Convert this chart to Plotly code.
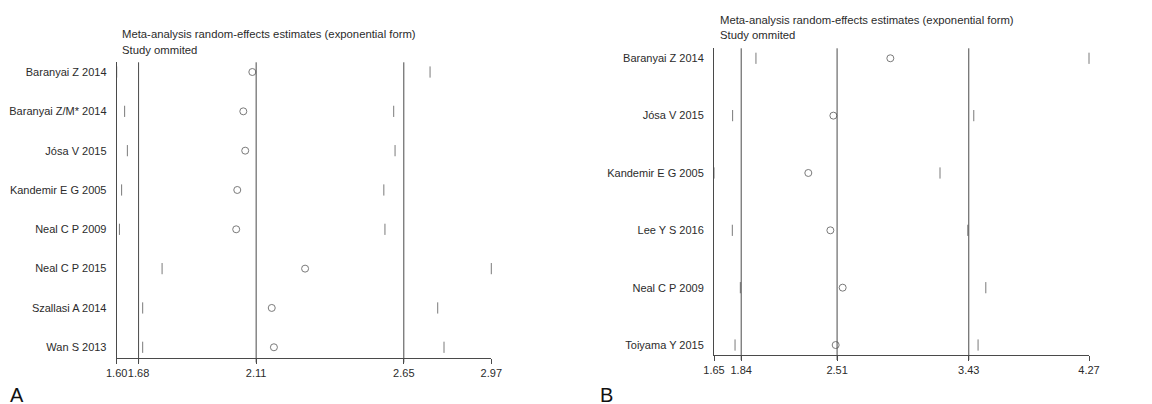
import plotly.graph_objects as go

# ---------------- Data ----------------
studies_a = ["Baranyai Z 2014", "Baranyai Z/M* 2014", "Jósa V 2015", "Kandemir E G 2005",
             "Neal C P 2009", "Neal C P 2015", "Szallasi A 2014", "Wan S 2013"]
est_a = [2.096, 2.063, 2.070, 2.041, 2.037, 2.289, 2.167, 2.175]
low_a = [1.600, 1.629, 1.639, 1.618, 1.610, 1.766, 1.695, 1.695]
up_a = [2.746, 2.613, 2.618, 2.577, 2.581, 2.970, 2.774, 2.797]
overall_a = [1.68, 2.11, 2.65]
ticks_a = [1.60, 1.68, 2.11, 2.65, 2.97]
ticktext_a = ["1.60", "1.68", "2.11", "2.65", "2.97"]

studies_b = ["Baranyai Z 2014", "Jósa V 2015", "Kandemir E G 2005", "Lee Y S 2016",
             "Neal C P 2009", "Toiyama Y 2015"]
est_b = [2.882, 2.484, 2.309, 2.463, 2.549, 2.500]
low_b = [1.943, 1.780, 1.650, 1.778, 1.834, 1.797]
up_b = [4.270, 3.465, 3.229, 3.423, 3.549, 3.495]
overall_b = [1.84, 2.51, 3.43]
ticks_b = [1.65, 1.84, 2.51, 3.43, 4.27]
ticktext_b = ["1.65", "1.84", "2.51", "3.43", "4.27"]

title1 = "Meta-analysis random-effects estimates (exponential form)"
title2 = "Study ommited"

# ---------------- Layout geometry ----------------
W, H = 1152, 404
OFF = 8  # page body margin in the browser
FONT = "Liberation Sans, Arial, Helvetica, sans-serif"
LINE = "#4a4a4a"
MARK = "#7a7a7a"
TXT = "#2b2b2b"


def px(x):
    return (x - OFF) / W


def py(y):
    return 1 - (y - OFF) / H


fig = go.Figure()

panels = [
    dict(studies=studies_a, est=est_a, low=low_a, up=up_a, overall=overall_a,
         ticks=ticks_a, ticktext=ticktext_a, xdom=(116.7, 491.3), ytop=62.3, ybot=357.5,
         xr=(1.60, 2.97), pad_top=0.247, pad_bot=0.26, xa="x", ya="y",
         t1=(120, 34.5), t2=(120, 50), letter="A", lpos=(17, 395)),
    dict(studies=studies_b, est=est_b, low=low_b, up=up_b, overall=overall_b,
         ticks=ticks_b, ticktext=ticktext_b, xdom=(714, 1089), ytop=48.3, ybot=355,
         xr=(1.65, 4.27), pad_top=0.174, pad_bot=0.174, xa="x2", ya="y2",
         t1=(717.5, 20), t2=(717.5, 35.5), letter="B", lpos=(606, 395)),
]

for i, p in enumerate(panels):
    n = len(p["studies"])
    idx = list(range(n))
    for bounds in (p["low"], p["up"]):
        fig.add_trace(go.Scatter(x=bounds, y=idx, mode="markers", xaxis=p["xa"], yaxis=p["ya"],
                                 marker=dict(symbol="line-ns", size=8, line=dict(width=1, color=MARK),
                                             color=MARK),
                                 showlegend=False, hoverinfo="skip", cliponaxis=False))
    fig.add_trace(go.Scatter(x=p["est"], y=idx, mode="markers", xaxis=p["xa"], yaxis=p["ya"],
                             marker=dict(symbol="circle-open", size=7, line=dict(width=1, color=MARK),
                                         color=MARK),
                             showlegend=False, hoverinfo="skip", cliponaxis=False))
    for v in p["overall"]:
        fig.add_shape(type="line", xref=p["xa"], yref="paper", x0=v, x1=v,
                      y0=py(p["ybot"] + 5), y1=py(p["ytop"]),
                      line=dict(color=LINE, width=1))
    suffix = "" if i == 0 else "2"
    fig.update_layout(**{
        "xaxis" + suffix: dict(domain=[px(p["xdom"][0]), px(p["xdom"][1])], range=list(p["xr"]),
                               anchor="y" + suffix, tickmode="array", tickvals=p["ticks"],
                               ticktext=p["ticktext"], ticks="outside", ticklen=5, tickwidth=1,
                               tickcolor=LINE, showline=True, linecolor=LINE, linewidth=1,
                               showgrid=False, zeroline=False, fixedrange=True, tickangle=0,
                               automargin=False,
                               tickfont=dict(family=FONT, size=11, color=TXT)),
        "yaxis" + suffix: dict(domain=[py(p["ybot"]), py(p["ytop"])],
                               range=[n - 1 + p["pad_bot"], -p["pad_top"]],
                               anchor="x" + suffix, tickmode="array", tickvals=idx,
                               ticktext=p["studies"], ticks="", ticklabelstandoff=7,
                               showline=True, linecolor=LINE, linewidth=1, automargin=False,
                               showgrid=False, zeroline=False, fixedrange=True,
                               tickfont=dict(family=FONT, size=11, color=TXT)),
    })
    for t, pos in ((title1, p["t1"]), (title2, p["t2"])):
        fig.add_annotation(text=t, x=px(pos[0]), y=py(pos[1]), xref="paper", yref="paper",
                           xanchor="left", yanchor="middle", showarrow=False,
                           font=dict(family=FONT, size=11.3, color=TXT))
    fig.add_annotation(text=p["letter"], x=px(p["lpos"][0]), y=py(p["lpos"][1]), xref="paper",
                       yref="paper", xanchor="center", yanchor="middle", showarrow=False,
                       font=dict(family=FONT, size=20, color="#111"))

fig.update_layout(width=W, height=H, margin=dict(l=0, r=0, t=0, b=0),
                  paper_bgcolor="white", plot_bgcolor="white", showlegend=False)

fig.write_html("out.html")
